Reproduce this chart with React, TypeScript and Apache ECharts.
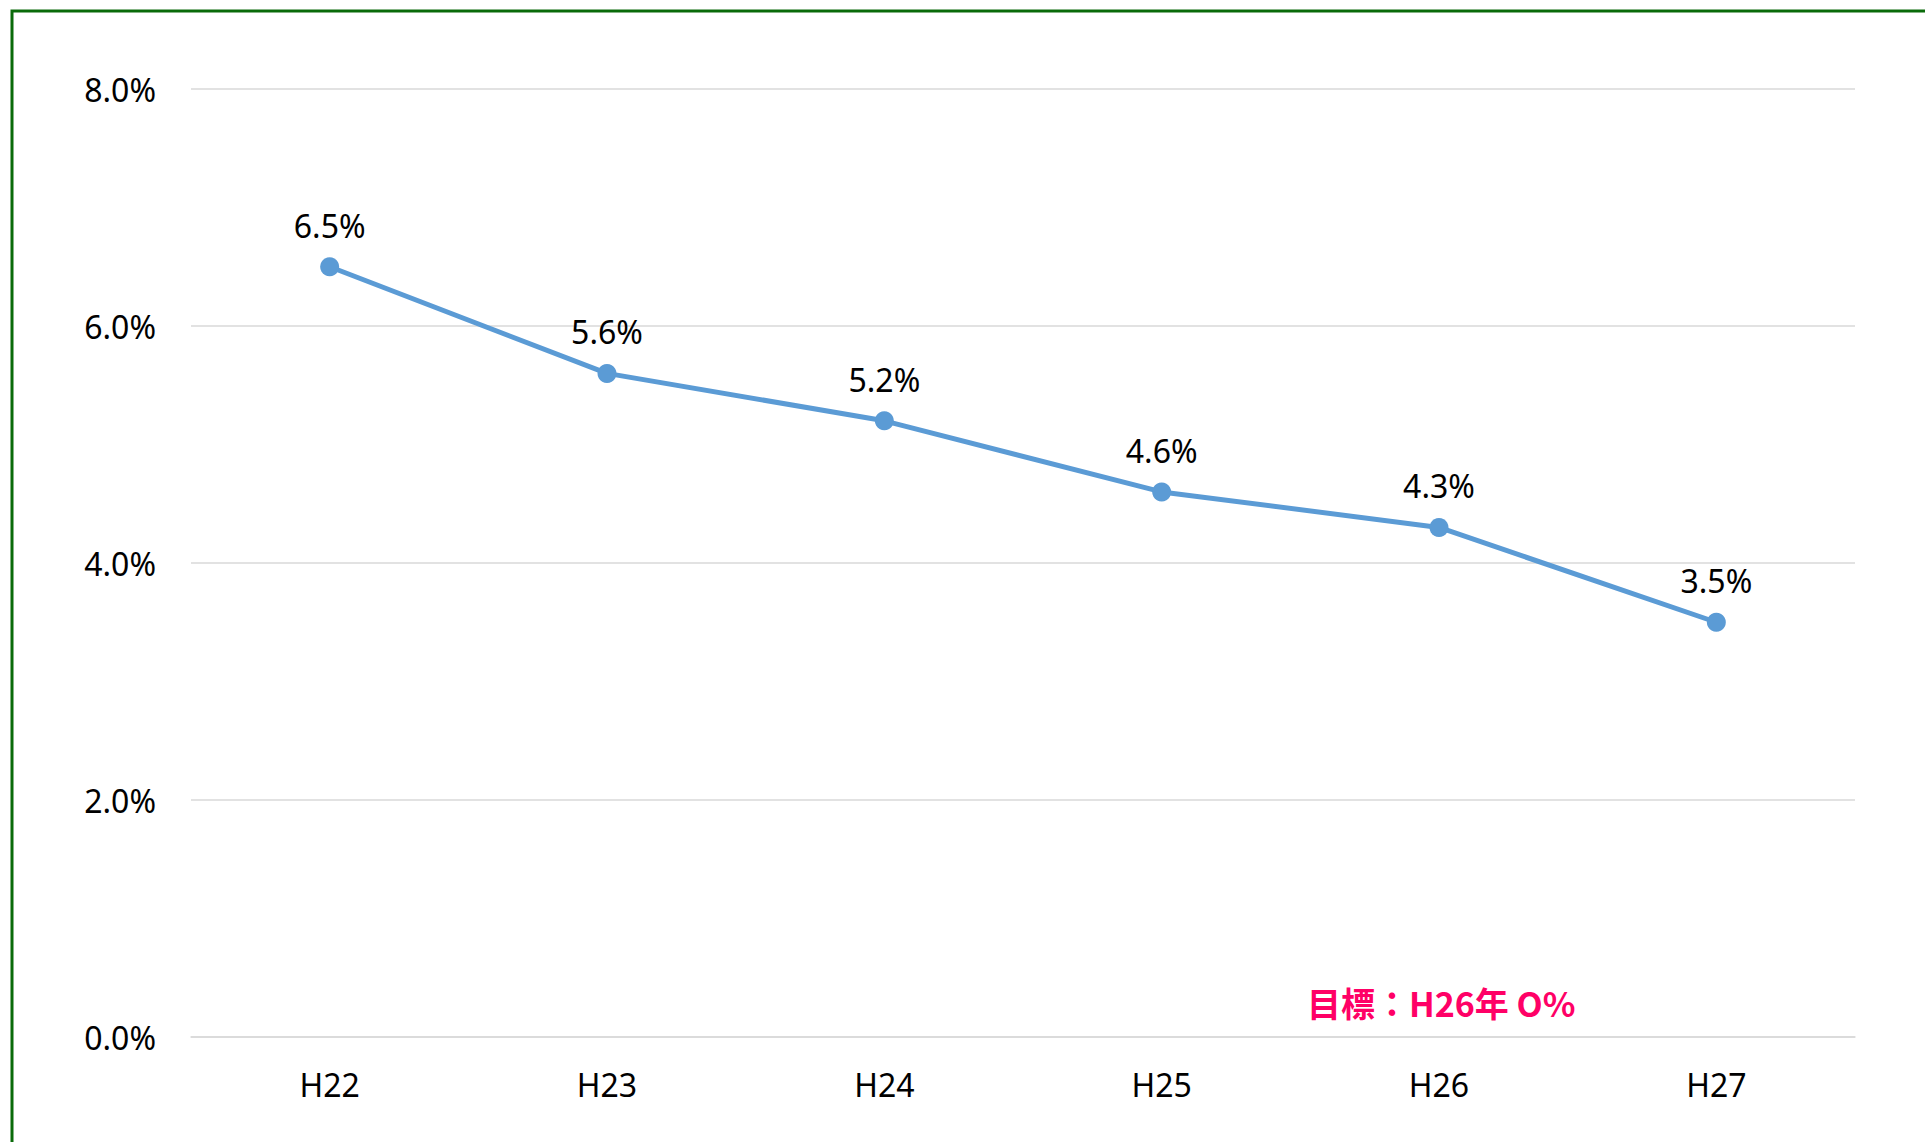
import React, { useEffect, useRef } from "react";
import * as echarts from "echarts";

const categories = ["H22", "H23", "H24", "H25", "H26", "H27"];
const rates = [6.5, 5.6, 5.2, 4.6, 4.3, 3.5];
const yTicks = { min: 0, max: 8, interval: 2 };
const targetNote = "目標：H26年 O%";

export default function App() {
  const ref = useRef<HTMLDivElement>(null);
  useEffect(() => {
    const chart = echarts.init(ref.current!, undefined, { renderer: "svg" });
    const font = "'Noto Sans', 'Open Sans', sans-serif";
    chart.setOption({
      animation: false,
      backgroundColor: "#ffffff",
      grid: { left: 191, right: 70, top: 89, bottom: 105, containLabel: false },
      xAxis: {
        type: "category",
        data: categories,
        boundaryGap: true,
        axisLine: { show: true, lineStyle: { color: "#d9d9d9", width: 1.5 } },
        axisTick: { show: false },
        axisLabel: { color: "#000000", fontSize: 32, fontFamily: font, margin: 31 },
      },
      yAxis: {
        type: "value",
        min: yTicks.min,
        max: yTicks.max,
        interval: yTicks.interval,
        axisLine: { show: false },
        axisTick: { show: false },
        splitLine: { lineStyle: { color: "#d9d9d9", width: 1.5 } },
        axisLabel: {
          color: "#000000",
          fontSize: 32,
          fontFamily: font,
          margin: 35,
          formatter: (v: number) => v.toFixed(1) + "%",
        },
      },
      series: [
        {
          type: "line",
          data: rates,
          symbol: "circle",
          symbolSize: 19,
          itemStyle: { color: "#5b9bd5" },
          lineStyle: { color: "#5b9bd5", width: 5 },
          label: {
            show: true,
            position: "top",
            distance: 16,
            color: "#000000",
            fontSize: 32,
            fontFamily: font,
            formatter: (p: any) => p.value.toFixed(1) + "%",
          },
        },
      ],
      graphic: [
        {
          type: "rect",
          shape: { x: 12, y: 11, width: 2000, height: 1200 },
          style: { fill: "none", stroke: "#0a6b0a", lineWidth: 3 },
          silent: true,
        },
        {
          type: "text",
          left: 1307,
          top: 985,
          style: {
            text: targetNote,
            fill: "#ff0066",
            font: "bold 34px 'Noto Sans CJK JP', 'Noto Sans', sans-serif",
          },
        },
      ],
    });
    return () => chart.dispose();
  }, []);
  return (
    <div
      ref={ref}
      style={{ position: "fixed", left: 0, top: 0, width: 1925, height: 1142 }}
    />
  );
}
